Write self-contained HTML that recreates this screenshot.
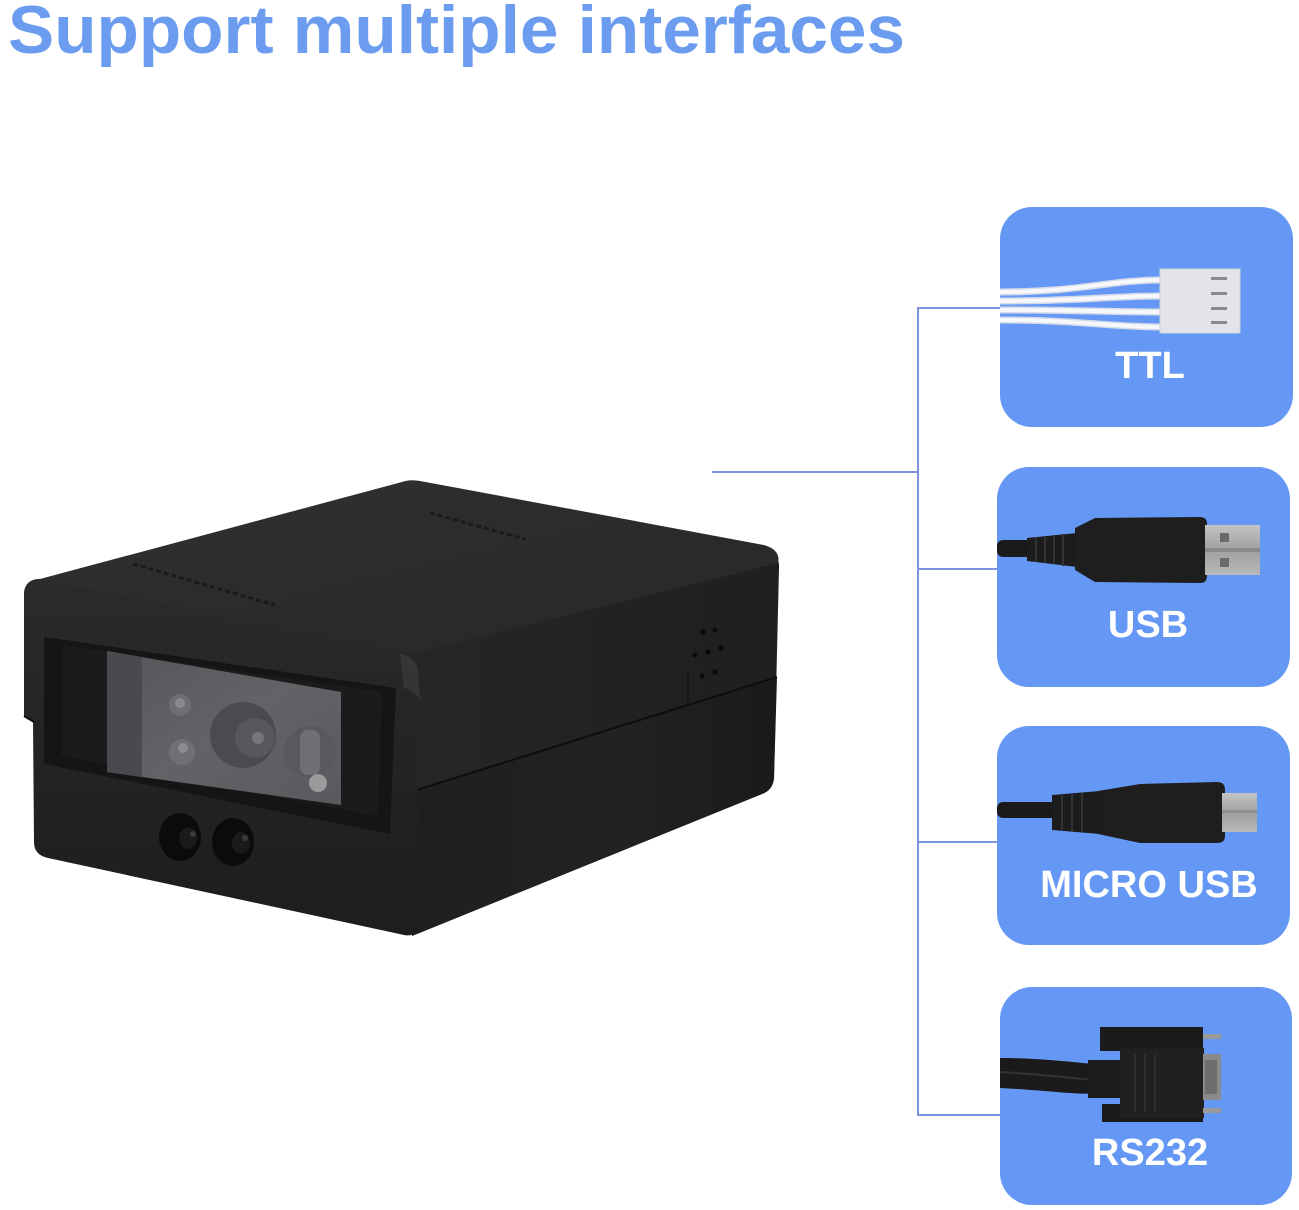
<!DOCTYPE html>
<html>
<head>
<meta charset="utf-8">
<style>
  html,body{margin:0;padding:0;background:#ffffff;}
  body{width:1299px;height:1210px;overflow:hidden;}
  svg{display:block;}
</style>
</head>
<body>
<svg width="1299" height="1210" viewBox="0 0 1299 1210" xmlns="http://www.w3.org/2000/svg">
  <defs>
    <linearGradient id="topg" x1="0" y1="0" x2="1" y2="1">
      <stop offset="0" stop-color="#303030"/>
      <stop offset="1" stop-color="#272727"/>
    </linearGradient>
    <linearGradient id="frontg" x1="0" y1="0" x2="0" y2="1">
      <stop offset="0" stop-color="#2b2b2b"/>
      <stop offset="1" stop-color="#1d1d1d"/>
    </linearGradient>
    <linearGradient id="rightg" x1="0" y1="0" x2="1" y2="0">
      <stop offset="0" stop-color="#262626"/>
      <stop offset="1" stop-color="#1f1f1f"/>
    </linearGradient>
    <linearGradient id="rightlow" x1="0" y1="0" x2="1" y2="0">
      <stop offset="0" stop-color="#1f1f1f"/>
      <stop offset="0.6" stop-color="#222"/>
      <stop offset="1" stop-color="#1a1a1a"/>
    </linearGradient>
    <linearGradient id="wing" x1="0" y1="0" x2="1" y2="1">
      <stop offset="0" stop-color="#55555a"/>
      <stop offset="0.5" stop-color="#636367"/>
      <stop offset="1" stop-color="#5a5a5e"/>
    </linearGradient>
    <linearGradient id="metal" x1="0" y1="0" x2="0" y2="1">
      <stop offset="0" stop-color="#c4c4c4"/>
      <stop offset="0.5" stop-color="#a0a0a0"/>
      <stop offset="1" stop-color="#b8b8b8"/>
    </linearGradient>
  </defs>

  <!-- Title -->
  <text x="8" y="53" font-family="Liberation Sans, Arial, sans-serif" font-weight="bold" font-size="68" fill="#6b9cf0" textLength="897" lengthAdjust="spacingAndGlyphs">Support multiple interfaces</text>

  <!-- Connector lines -->
  <g stroke="#7d94dc" stroke-width="2" fill="none">
    <line x1="712" y1="472" x2="919" y2="472"/>
    <line x1="918" y1="307" x2="918" y2="1116"/>
    <line x1="918" y1="308" x2="1002" y2="308"/>
    <line x1="918" y1="569" x2="999" y2="569"/>
    <line x1="918" y1="842" x2="999" y2="842"/>
    <line x1="918" y1="1115" x2="1002" y2="1115"/>
  </g>

  <!-- Blue boxes -->
  <rect x="1000" y="207" width="293" height="220" rx="32" fill="#6598f4"/>
  <rect x="997" y="467" width="293" height="220" rx="32" fill="#6598f4"/>
  <rect x="997" y="726" width="293" height="219" rx="32" fill="#6598f4"/>
  <rect x="1000" y="987" width="292" height="218" rx="32" fill="#6598f4"/>

  <!-- TTL connector -->
  <g fill="none" stroke-linecap="butt">
    <g stroke="#d6dbea" stroke-width="7">
      <path d="M1000,292 C1080,292 1110,280 1162,280"/>
      <path d="M1000,301 C1080,301 1110,296 1162,296"/>
      <path d="M1000,310 C1080,310 1110,312 1162,312"/>
      <path d="M1000,320 C1080,320 1110,327 1162,327"/>
    </g>
    <g stroke="#f7f8fc" stroke-width="4">
      <path d="M1000,292 C1080,292 1110,280 1162,280"/>
      <path d="M1000,301 C1080,301 1110,296 1162,296"/>
      <path d="M1000,310 C1080,310 1110,312 1162,312"/>
      <path d="M1000,320 C1080,320 1110,327 1162,327"/>
    </g>
  </g>
  <rect x="1160" y="269" width="80" height="64" fill="#e3e4e9"/>
  <rect x="1160" y="269" width="80" height="64" fill="none" stroke="#cfd2da" stroke-width="1"/>
  <g fill="#8a8a90">
    <rect x="1211" y="277" width="16" height="3"/>
    <rect x="1211" y="292" width="16" height="3"/>
    <rect x="1211" y="307" width="16" height="3"/>
    <rect x="1211" y="321" width="16" height="3"/>
  </g>

  <!-- USB connector -->
  <rect x="997" y="540" width="36" height="17" rx="6" fill="#1a1a1a"/>
  <path d="M1027,538 L1077,533 L1077,567 L1027,561 Z" fill="#1c1c1c"/>
  <g stroke="#333" stroke-width="2">
    <line x1="1036" y1="537" x2="1036" y2="562"/>
    <line x1="1045" y1="536" x2="1045" y2="563"/>
    <line x1="1054" y1="535" x2="1054" y2="564"/>
    <line x1="1063" y1="534" x2="1063" y2="566"/>
  </g>
  <path d="M1075,528 L1095,518 L1200,517 Q1207,517 1207,524 L1207,576 Q1207,583 1200,583 L1095,582 L1075,570 Z" fill="#1e1e1e"/>
  <rect x="1205" y="525" width="55" height="50" fill="url(#metal)"/>
  <rect x="1205" y="548" width="55" height="4" fill="#8a8a8a"/>
  <rect x="1220" y="533" width="9" height="9" fill="#6a6a6a"/>
  <rect x="1220" y="558" width="9" height="9" fill="#6a6a6a"/>

  <!-- Micro USB connector -->
  <rect x="997" y="802" width="60" height="16" rx="6" fill="#1a1a1a"/>
  <path d="M1052,795 L1100,791 L1100,834 L1052,830 Z" fill="#1c1c1c"/>
  <g stroke="#333" stroke-width="2">
    <line x1="1062" y1="795" x2="1062" y2="830"/>
    <line x1="1072" y1="794" x2="1072" y2="831"/>
    <line x1="1082" y1="793" x2="1082" y2="832"/>
  </g>
  <path d="M1098,791 L1140,784 L1217,782 Q1225,782 1225,790 L1225,836 Q1225,843 1217,843 L1140,843 L1098,834 Z" fill="#1e1e1e"/>
  <rect x="1222" y="793" width="35" height="39" fill="url(#metal)"/>
  <rect x="1222" y="810" width="35" height="3" fill="#8f8f8f"/>

  <!-- RS232 connector -->
  <path d="M1000,1058 C1040,1058 1070,1062 1095,1064 L1095,1094 C1070,1094 1040,1090 1000,1088 Z" fill="#1a1a1a"/>
  <path d="M1000,1072 C1040,1074 1070,1078 1095,1080" stroke="#333" stroke-width="2" fill="none"/>
  <rect x="1088" y="1060" width="35" height="38" fill="#1c1c1c"/>
  <rect x="1100" y="1027" width="103" height="24" fill="#1b1b1b"/>
  <rect x="1102" y="1104" width="101" height="18" fill="#1b1b1b"/>
  <rect x="1120" y="1048" width="84" height="70" fill="#202020"/>
  <g stroke="#2e2e2e" stroke-width="2">
    <line x1="1135" y1="1054" x2="1135" y2="1112"/>
    <line x1="1145" y1="1054" x2="1145" y2="1112"/>
    <line x1="1155" y1="1054" x2="1155" y2="1112"/>
  </g>
  <rect x="1203" y="1054" width="18" height="46" fill="#8a8a8a"/>
  <rect x="1205" y="1060" width="12" height="34" fill="#6e6e6e"/>
  <rect x="1203" y="1034" width="18" height="5" fill="#9a9a9a"/>
  <rect x="1203" y="1108" width="18" height="5" fill="#9a9a9a"/>

  <!-- Labels -->
  <g font-family="Liberation Sans, Arial, sans-serif" font-weight="bold" font-size="38" fill="#ffffff" text-anchor="middle">
    <text x="1150" y="378">TTL</text>
    <text x="1148" y="637">USB</text>
    <text x="1149" y="897">MICRO USB</text>
    <text x="1150" y="1165">RS232</text>
  </g>

  <!-- Device -->
  <!-- right face -->
  <path d="M408,652 L768,558 Q780,555 779,568 L774,778 Q773,790 762,794 L412,936 Z" fill="url(#rightg)"/>
  <!-- right face lower part -->
  <path d="M404,794 L777,677 L774,778 Q773,790 762,794 L412,936 Z" fill="url(#rightlow)"/>
  <line x1="404" y1="794" x2="777" y2="677" stroke="#0d0d0d" stroke-width="2"/>
  <line x1="688" y1="673" x2="688" y2="703" stroke="#141414" stroke-width="1.5"/>
  <!-- speaker holes -->
  <g fill="#0a0a0a">
    <circle cx="703" cy="632" r="2.6"/>
    <circle cx="715" cy="630" r="2.6"/>
    <circle cx="695" cy="655" r="2.6"/>
    <circle cx="708" cy="652" r="2.6"/>
    <circle cx="721" cy="648" r="2.6"/>
    <circle cx="702" cy="676" r="2.6"/>
    <circle cx="715" cy="672" r="2.6"/>
  </g>

  <!-- top face -->
  <path d="M40,579 L402,482 Q410,479 420,481 L764,545 Q781,550 778,563 L414,654 Q408,656 400,654 L46,592 Q30,586 40,579 Z" fill="url(#topg)"/>
  <!-- engraved marks on top -->
  <g stroke="#1a1a1a" stroke-width="3" stroke-dasharray="5 3" fill="none">
    <path d="M133,564 L275,605"/>
    <path d="M430,513 L525,539"/>
  </g>

  <!-- front face -->
  <path d="M24,592 Q26,578 42,579 L398,650 Q416,654 416,672 L419,920 Q419,938 404,935 L48,858 Q34,855 34,842 L33,722 L24,716 Z" fill="url(#frontg)"/>
  <!-- front-right rounded edge highlight -->
  <path d="M400,654 Q414,656 418,668 L420,700 Q414,690 404,688 Z" fill="#3a3a3a" opacity="0.8"/>
  <!-- lip seam -->
  <line x1="24" y1="716" x2="34" y2="722" stroke="#0f0f0f" stroke-width="2"/>

  <!-- recess -->
  <path d="M44,637 L396,688 L390,834 L44,764 Z" fill="#151515"/>
  <path d="M62,645 L382,692 L378,816 L62,756 Z" fill="#1b1b1b"/>
  <!-- window -->
  <path d="M107,651 L341,692 L341,805 L107,772 Z" fill="url(#wing)"/>
  <path d="M107,651 L142,657 L142,777 L107,772 Z" fill="#4a4a4e"/>
  <!-- LEDs and lens -->
  <circle cx="180" cy="705" r="11" fill="#6f6f73"/>
  <circle cx="180" cy="703" r="5" fill="#8a8a8e"/>
  <circle cx="182" cy="752" r="13" fill="#707074"/>
  <circle cx="183" cy="748" r="5" fill="#8c8c90"/>
  <circle cx="243" cy="735" r="33" fill="#4b4b4f"/>
  <circle cx="255" cy="738" r="20" fill="#58585c"/>
  <circle cx="258" cy="738" r="6" fill="#77777b"/>
  <circle cx="310" cy="752" r="26" fill="#59595d"/>
  <rect x="300" y="730" width="20" height="45" rx="8" fill="#707074"/>
  <circle cx="318" cy="783" r="9" fill="#9a9a9c"/>

  <!-- holes -->
  <ellipse cx="180" cy="837" rx="21" ry="24" fill="#0b0b0b"/>
  <ellipse cx="188" cy="838" rx="9" ry="11" fill="#1a1a1a"/>
  <circle cx="193" cy="834" r="3" fill="#3a3a3a"/>
  <ellipse cx="233" cy="842" rx="21" ry="24" fill="#0b0b0b"/>
  <ellipse cx="241" cy="843" rx="9" ry="11" fill="#1a1a1a"/>
  <circle cx="245" cy="838" r="3" fill="#3a3a3a"/>
</svg>
</body>
</html>
